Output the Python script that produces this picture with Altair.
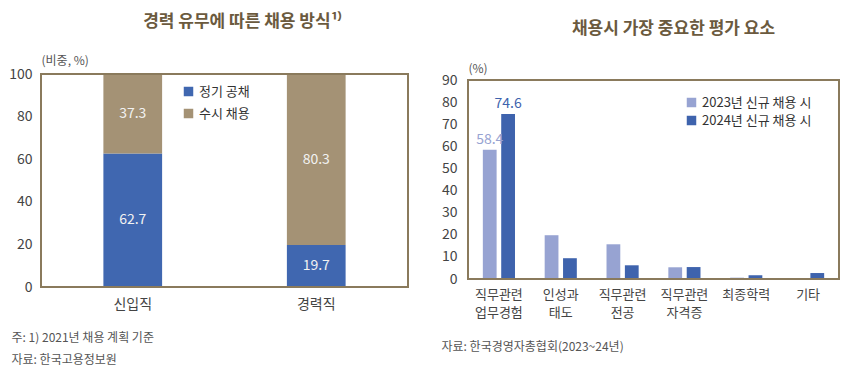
import altair as alt
import pandas as pd

FONT = "Noto Sans CJK KR"

# ---- left chart data ----
left_cats = ["신입직", "경력직"]
left_series = ["정기 공채", "수시 채용"]
regular = [62.7, 19.7]
rolling = [37.3, 80.3]

# ---- right chart data ----
right_cats = ["직무관련 업무경험", "인성과 태도", "직무관련 전공", "직무관련 자격증", "최종학력", "기타"]
right_series = ["2023년 신규 채용 시", "2024년 신규 채용 시"]
v2023 = [58.4, 19.8, 15.7, 5.3, 0.6, 0.0]
v2024 = [74.6, 9.4, 6.2, 5.4, 1.7, 2.7]
right_ticks = [0, 10, 20, 30, 40, 50, 60, 70, 80, 90]

left_rows = []
for i, c in enumerate(left_cats):
    left_rows.append({"cat": c, "series": left_series[0], "value": regular[i], "ord": 0})
    left_rows.append({"cat": c, "series": left_series[1], "value": rolling[i], "ord": 1})
ldf = pd.DataFrame(left_rows)

right_rows = []
for i, c in enumerate(right_cats):
    right_rows.append({"cat": c, "series": right_series[0], "value": v2023[i], "first": i == 0})
    right_rows.append({"cat": c, "series": right_series[1], "value": v2024[i], "first": i == 0})
rdf = pd.DataFrame(right_rows)

BROWN_TITLE = "#6b5a3e"
FRAME = "#8a7a5c"
LABEL_COLOR = "#444444"
NOTE_COLOR = "#555555"

LW, LH = 367, 213
RW, RH, RTOP = 371, 205, 6

# ---------------- left ----------------
lx = alt.X("cat:N", sort=left_cats,
           scale=alt.Scale(paddingInner=0.68, paddingOuter=0.34),
           axis=alt.Axis(title=["주: 1) 2021년 채용 계획 기준", "자료: 한국고용정보원"],
                         labelAngle=0, labelFontSize=14, labelPadding=10,
                         titleAnchor="start", titleAlign="left", titleX=-30, titleY=45,
                         titleFontSize=12, titleFontWeight="normal", titleColor=NOTE_COLOR,
                         titleLineHeight=22, titleBaseline="top"))

ly = alt.Y("value:Q", stack="zero",
           scale=alt.Scale(domain=[0, 100], nice=False),
           axis=alt.Axis(values=[0, 20, 40, 60, 80, 100], title="(비중, %)", labelOverlap=False,
                         titleAngle=0, titleAlign="left", titleX=0, titleY=-14,
                         titleBaseline="middle", titleFontSize=12, titleFontWeight="normal",
                         titleColor=NOTE_COLOR, labelFontSize=14, labelPadding=9))

lcolor = alt.Color("series:N", scale=alt.Scale(domain=left_series, range=["#4067b0", "#a49275"]),
                   legend=alt.Legend(title=None, orient="none", legendX=141, legendY=11,
                                     symbolType="square", symbolSize=90, labelFontSize=13,
                                     labelColor="#333333", rowPadding=8, symbolStrokeWidth=0))

left_bars = alt.Chart(ldf).mark_bar().encode(
    x=lx, y=ly, color=lcolor, order=alt.Order("ord:Q"),
)

left_text = alt.Chart(ldf).transform_stack(
    stack="value", groupby=["cat"], as_=["v0", "v1"], sort=[alt.SortField("ord")]
).transform_calculate(
    mid="(datum.v0 + datum.v1) / 2", lab="format(datum.value, '.1f')"
).mark_text(fontSize=14, color="#f2f2f2", font=FONT).encode(
    x=alt.X("cat:N", sort=left_cats),
    y=alt.Y("mid:Q"),
    text="lab:N",
)

left_frame = alt.Chart(alt.Data(values=[{}])).mark_rect(
    fillOpacity=0, stroke=FRAME, strokeWidth=2
).encode(x=alt.value(0), x2=alt.value(LW), y=alt.value(0), y2=alt.value(LH))

left = alt.layer(left_bars, left_text, left_frame).properties(
    width=LW, height=LH,
    title=alt.TitleParams("경력 유무에 따른 채용 방식¹⁾", fontSize=17, fontWeight="bold",
                          color=BROWN_TITLE, offset=23, dx=18, anchor="middle"),
)

# ---------------- right ----------------
rx = alt.X("cat:N", sort=right_cats,
           scale=alt.Scale(paddingInner=0.48, paddingOuter=0.24),
           axis=alt.Axis(title="자료: 한국경영자총협회(2023~24년)", labelAngle=0, labelFontSize=13,
                         labelPadding=9, labelExpr="split(datum.label, ' ')", labelLineHeight=18,
                         titleAnchor="start", titleAlign="left", titleX=-27, titleY=62,
                         titleFontSize=12, titleFontWeight="normal", titleColor=NOTE_COLOR,
                         titleBaseline="top"))

rxo = alt.XOffset("series:N", sort=right_series, scale=alt.Scale(paddingInner=0.25))

rcolor_scale = alt.Scale(domain=right_series, range=["#97a3d2", "#3e63ad"])

right_bars = alt.Chart(rdf).mark_bar().encode(
    x=rx,
    xOffset=rxo,
    y=alt.Y("value:Q", scale=alt.Scale(domain=[0, 90], nice=False, range=[RH, RTOP]),
            axis=alt.Axis(values=right_ticks, tickCount=10, title="(%)", labelOverlap=False,
                          titleAngle=0, titleAlign="left", titleX=0, titleY=-6,
                          titleBaseline="middle", titleFontSize=12, titleFontWeight="normal",
                          titleColor=NOTE_COLOR, labelFontSize=14, labelPadding=11)),
    color=alt.Color("series:N", scale=rcolor_scale,
                    legend=alt.Legend(title=None, orient="none", legendX=217, legendY=22,
                                      symbolType="square", symbolSize=90, labelFontSize=13,
                                      labelColor="#333333", rowPadding=4, symbolStrokeWidth=0)),
)

right_text = alt.Chart(rdf).transform_filter("datum.first").transform_calculate(
    lab="format(datum.value, '.1f')"
).mark_text(fontSize=14, baseline="bottom", dy=-3, font=FONT).encode(
    x=alt.X("cat:N", sort=right_cats),
    xOffset=rxo,
    y=alt.Y("value:Q"),
    text="lab:N",
    color=alt.Color("series:N", scale=rcolor_scale, legend=None),
)

right_frame = alt.Chart(alt.Data(values=[{}])).mark_rect(
    fillOpacity=0, stroke=FRAME, strokeWidth=2
).encode(x=alt.value(0), x2=alt.value(RW), y=alt.value(RTOP), y2=alt.value(RH))

right = alt.layer(right_bars, right_text, right_frame).properties(
    width=RW, height=RH,
    title=alt.TitleParams("채용시 가장 중요한 평가 요소", fontSize=17, fontWeight="bold",
                          color=BROWN_TITLE, offset=24, dx=20, anchor="middle"),
)

chart = alt.hconcat(left, right, spacing=30).resolve_scale(
    color="independent", y="independent", x="independent", xOffset="independent"
).resolve_legend(color="independent").configure(
    font=FONT
).configure_view(
    stroke="transparent"
).configure_axis(
    domain=False, ticks=False, grid=False, labelOverlap=False,
    labelColor=LABEL_COLOR, labelFont=FONT, titleFont=FONT
).configure_legend(
    labelFont=FONT
).configure_title(
    font=FONT
).properties(background="white", padding={"left": 0, "top": 4, "right": 0, "bottom": 0})

chart.save("out.html", embed_options={"renderer": "svg", "actions": False})
